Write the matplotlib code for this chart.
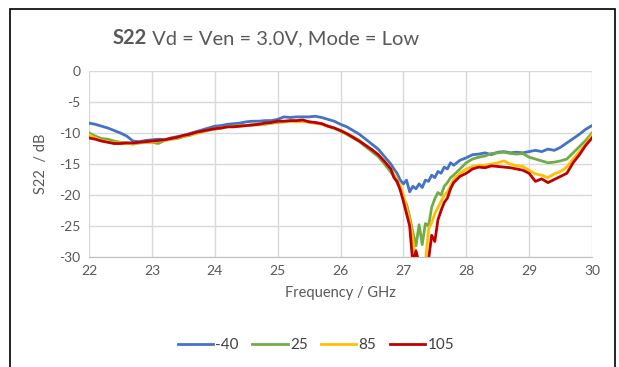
import numpy as np
import matplotlib
matplotlib.use("Agg")
import matplotlib.pyplot as plt
from matplotlib.patches import Rectangle

plt.rcParams['font.family'] = ['Lato', 'DejaVu Sans']
plt.rcParams['axes.unicode_minus'] = False

# frequency sweep points (GHz), denser around the dip
freq = np.concatenate([np.arange(22.0, 26.81, 0.1),
                       np.arange(26.85, 27.81, 0.05),
                       np.arange(27.9, 30.01, 0.1)])

s22_m40 = [-8.4, -8.6, -8.9, -9.2, -9.6, -10.0, -10.5, -11.3, -11.4, -11.2,
           -11.1, -11.0, -11.1, -10.8, -10.6, -10.4, -10.1, -9.8, -9.5, -9.2,
           -8.9, -8.8, -8.6, -8.5, -8.4, -8.2, -8.1, -8.1, -8.0, -8.0,
           -7.8, -7.4, -7.5, -7.4, -7.4, -7.4, -7.3, -7.5, -7.8, -8.1,
           -8.6, -9.0, -9.6, -10.2, -11.0, -11.8, -12.6, -13.8, -15.0,
           -15.8, -16.5, -17.6, -18.2, -17.6, -19.5, -18.6, -19.0, -18.2, -18.8,
           -17.6, -17.8, -16.8, -17.2, -16.2, -16.5, -15.5, -15.8, -14.8, -15.2,
           -14.4, -14.0, -13.5, -13.4, -13.2, -13.5, -13.1, -13.0, -13.2, -13.1,
           -13.2, -13.0, -12.8, -13.0, -12.6, -12.8, -12.3, -11.6, -10.9, -10.2,
           -9.4, -8.8]

s22_25 = [-10.0, -10.5, -10.9, -11.0, -11.3, -11.5, -11.6, -11.8, -11.6, -11.5,
          -11.5, -11.7, -11.2, -11.0, -10.9, -10.6, -10.4, -10.0, -9.8, -9.5,
          -9.4, -9.2, -9.0, -8.9, -8.8, -8.8, -8.7, -8.6, -8.6, -8.4,
          -8.3, -8.2, -8.1, -8.1, -8.1, -8.2, -8.4, -8.5, -8.9, -9.2,
          -9.7, -10.2, -10.8, -11.4, -12.2, -13.0, -13.8, -15.0, -16.3,
          -17.0, -18.0, -19.0, -20.5, -21.5, -23.5, -26.0, -28.2, -24.8, -28.0,
          -24.6, -25.0, -22.0, -20.6, -19.6, -20.0, -18.6, -18.0, -17.2, -16.8,
          -15.8, -14.8, -14.2, -13.9, -13.7, -13.3, -13.2, -13.1, -13.3, -13.4,
          -13.3, -13.9, -14.2, -14.5, -14.8, -14.7, -14.5, -14.2, -13.2, -12.2,
          -11.2, -10.0]

s22_85 = [-10.3, -10.8, -11.2, -11.4, -11.6, -11.6, -11.7, -11.7, -11.6, -11.5,
          -11.5, -11.3, -11.2, -11.0, -10.8, -10.5, -10.3, -10.1, -9.8, -9.6,
          -9.3, -9.2, -9.0, -9.0, -8.9, -8.8, -8.7, -8.7, -8.5, -8.4,
          -8.2, -8.2, -8.1, -8.2, -8.1, -8.3, -8.4, -8.6, -8.9, -9.2,
          -9.6, -10.1, -10.6, -11.2, -12.0, -12.7, -13.5, -14.6, -15.8,
          -16.8, -17.5, -18.5, -20.0, -22.0, -24.0, -27.0, -31.0, -31.0, -31.0,
          -31.0, -25.5, -24.5, -23.0, -22.0, -21.0, -20.0, -19.5, -18.5, -17.5,
          -16.5, -15.8, -15.4, -15.2, -15.2, -15.0, -14.8, -14.5, -15.0, -15.3,
          -15.4, -16.0, -16.6, -16.8, -17.2, -16.6, -16.2, -15.5, -14.2, -13.0,
          -11.8, -10.3]

s22_105 = [-10.8, -11.0, -11.3, -11.5, -11.7, -11.7, -11.6, -11.6, -11.5, -11.4,
           -11.3, -11.2, -11.1, -10.9, -10.7, -10.4, -10.2, -9.9, -9.7, -9.5,
           -9.3, -9.2, -9.0, -9.0, -8.9, -8.8, -8.7, -8.6, -8.4, -8.3,
           -8.1, -8.1, -8.0, -8.0, -7.9, -8.2, -8.3, -8.5, -8.9, -9.2,
           -9.6, -10.1, -10.7, -11.3, -12.0, -12.7, -13.5, -14.6, -15.8,
           -17.2, -17.8, -19.2, -21.0, -23.0, -25.0, -31.0, -29.0, -31.0, -31.0,
           -31.0, -30.5, -26.5, -27.5, -24.0, -22.5, -21.2, -20.5, -19.0, -18.0,
           -17.0, -16.5, -15.8, -15.5, -15.6, -15.3, -15.4, -15.5, -15.6, -15.8,
           -16.0, -16.5, -17.8, -17.4, -18.0, -17.5, -17.0, -16.5, -14.8, -13.5,
           -12.0, -10.8]

labels = ["-40", "25", "85", "105"]
colors = ["#4472C4", "#70AD47", "#FFC000", "#C00000"]
series = [s22_m40, s22_25, s22_85, s22_105]

fig = plt.figure(figsize=(6.19, 3.67), dpi=100)
ax = fig.add_axes([89/619, 1-257/367, 503/619, 186/367])

for y, lab, c in zip(series, labels, colors):
    ax.plot(freq, y, color=c, lw=2.0, label=lab)

ax.set_xlim(22, 30)
ax.set_ylim(-30, 0)
ax.set_xticks(range(22, 31))
ax.set_yticks(range(-30, 1, 5))
ax.grid(True, color="#d9d9d9", lw=1)
ax.set_axisbelow(True)
for s in ["top", "right", "left"]:
    ax.spines[s].set_visible(False)
ax.spines["bottom"].set_color("#bfbfbf")
ax.tick_params(length=0, labelsize=10, labelcolor="#595959", pad=6)
ax.set_xlabel("Frequency / GHz", fontsize=10.5, color="#595959", labelpad=6)
ax.set_ylabel("S22  / dB", fontsize=10.5, color="#595959", labelpad=8)

# title: bold "S22" followed by regular text on the same baseline
ty = 1 - 44/367
t1 = fig.text(113/619, ty, "S22", fontsize=14.5, fontweight="bold",
              color="#595959", va="baseline")
fig.canvas.draw()
x_end = t1.get_window_extent().x1 / fig.bbox.width
fig.text(x_end, ty, " Vd = Ven = 3.0V, Mode = Low", fontsize=14.5,
         color="#595959", va="baseline")

fig.legend(loc="center", bbox_to_anchor=(316/619, 1-345/367), ncol=4,
           frameon=False, fontsize=11, handlelength=2.3, handletextpad=0.15,
           columnspacing=0.9, labelcolor="#404040")

# chart border
fig.patches.append(Rectangle((10/619, -0.1), 605/619, 1.1-9/367,
                             transform=fig.transFigure, fill=False,
                             edgecolor="black", lw=1.2))

fig.savefig("out.png", dpi=100)
